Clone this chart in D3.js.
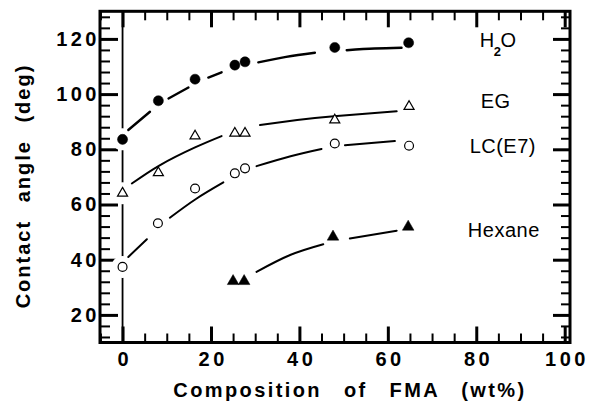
<!DOCTYPE html>
<html>
<head>
<meta charset="utf-8">
<script src="https://cdn.jsdelivr.net/npm/d3@7"></script>
<style>
  body { margin: 0; background: #fff; }
  svg { display: block; font-family: "Liberation Sans", Arial, Helvetica, sans-serif; }
</style>
</head>
<body>
<div id="chart"></div>
<script>
// measured points (composition wt% / contact angle deg)
const h2oX = [0, 8.1, 16.4, 25.4, 27.7, 48.0, 64.7]
const h2oY = [83.6, 97.6, 105.4, 110.5, 111.7, 116.9, 118.6]
const egX = [0, 8.1, 16.4, 25.4, 27.7, 48.0, 64.8]
const egY = [64.1, 71.5, 84.8, 85.8, 85.8, 90.6, 95.5]
const lcX = [0, 8.0, 16.4, 25.4, 27.7, 48.0, 64.8]
const lcY = [37.4, 53.2, 65.8, 71.3, 73.1, 82.1, 81.3]
const hexX = [25.0, 27.5, 47.6, 64.6]
const hexY = [32.2, 32.2, 48.3, 51.9]

// hand drawn guide curves, broken where they meet the markers
const h2oFit = [
  [[1.3, 87.0], [6.2, 93.6]],
  [[10.4, 98.4], [14.9, 102.4]],
  [[19.4, 106.0], [22.4, 107.9]],
  [[30.7, 111.5], [37.0, 113.5], [43.5, 115.0]],
  [[50.7, 115.9], [57.0, 116.5], [63.1, 116.8]]
]
const egFit = [
  [[2.1, 67.6], [8.5, 74.3], [16.4, 80.7], [22.4, 84.8]],
  [[31.1, 88.8], [39.5, 90.6], [47.8, 92.0], [62.0, 93.8]]
]
const lcFit = [
  [[1.3, 41.0], [5.5, 47.4]],
  [[10.7, 55.2], [16.6, 62.0], [22.8, 68.0]],
  [[30.3, 73.9], [38.0, 77.5], [45.0, 80.1]],
  [[50.3, 81.5], [61.6, 83.0]]
]
const hexFit = [
  [[30.3, 35.6], [37.9, 41.7], [45.4, 45.6]],
  [[51.4, 47.7], [62.0, 50.5]]
]

const xTicks = [0, 20, 40, 60, 80, 100]
const yTicks = [20, 40, 60, 80, 100, 120]
const xMinor = d3.range(-5, 101, 5).filter(d => d % 20 != 0)
const yMinor = d3.range(12, 130, 4).filter(d => d % 20 != 0)

const width = 592, height = 402

var svg = d3.select('#chart').append('svg')
  .attr('width', width)
  .attr('height', height)

var x = d3.scaleLinear().domain([-5.1, 101.2]).range([100, 570])
var y = d3.scaleLinear().domain([10, 130]).range([342.5, 11.3])

const x0 = 100, x1 = 570, y0 = 342.5, y1 = 11.3

// ---- axes (ticks point inward on all four sides)
function styleAxis(g, w) {
  g.select('.domain').remove()
  g.selectAll('.tick line').attr('stroke', '#000').attr('stroke-width', w)
}
const tickFont = g => g.selectAll('text')
  .attr('fill', '#000')
  .style('font-size', '20px')
  .style('font-weight', 'bold')
  .style('letter-spacing', '3.5px')

svg.append('g').attr('transform', `translate(0,${y0})`)
  .call(d3.axisBottom(x).tickValues(xMinor).tickSize(-9).tickFormat(''))
  .call(g => styleAxis(g, 2))
svg.append('g').attr('transform', `translate(0,${y0})`)
  .call(d3.axisBottom(x).tickValues(xTicks).tickSize(-16).tickPadding(9))
  .call(g => styleAxis(g, 3))
  .call(tickFont)
  .call(g => g.selectAll('text').attr('dx', '1.75px'))

svg.append('g').attr('transform', `translate(0,${y1})`)
  .call(d3.axisTop(x).tickValues(xMinor).tickSize(-9).tickFormat(''))
  .call(g => styleAxis(g, 2))
svg.append('g').attr('transform', `translate(0,${y1})`)
  .call(d3.axisTop(x).tickValues(xTicks).tickSize(-16).tickFormat(''))
  .call(g => styleAxis(g, 3))

svg.append('g').attr('transform', `translate(${x0},0)`)
  .call(d3.axisLeft(y).tickValues(yMinor).tickSize(-10).tickFormat(''))
  .call(g => styleAxis(g, 2))
svg.append('g').attr('transform', `translate(${x0},0)`)
  .call(d3.axisLeft(y).tickValues(yTicks).tickSize(-18).tickPadding(0))
  .call(g => styleAxis(g, 3))
  .call(tickFont)

svg.append('g').attr('transform', `translate(${x1},0)`)
  .call(d3.axisRight(y).tickValues(yMinor).tickSize(-9).tickFormat(''))
  .call(g => styleAxis(g, 2))
svg.append('g').attr('transform', `translate(${x1},0)`)
  .call(d3.axisRight(y).tickValues(yTicks).tickSize(-17).tickFormat(''))
  .call(g => styleAxis(g, 3))

// frame
svg.append('rect')
  .attr('x', x0).attr('y', y1)
  .attr('width', x1 - x0).attr('height', y0 - y1)
  .attr('fill', 'none').attr('stroke', '#000').attr('stroke-width', 3)

// vertical guide at 0 wt%
svg.append('line')
  .attr('x1', x(0)).attr('x2', x(0))
  .attr('y1', y(130)).attr('y2', y(10))
  .attr('stroke', '#000').attr('stroke-width', 1.8)

const series = [
  { name: 'h2o', xs: h2oX, ys: h2oY, fit: h2oFit, sym: d3.symbolCircle, size: 80, filled: true, lw: 2.4 },
  { name: 'eg', xs: egX, ys: egY, fit: egFit, sym: d3.symbolTriangle, size: 44, filled: false, lw: 2 },
  { name: 'lc', xs: lcX, ys: lcY, fit: lcFit, sym: d3.symbolCircle, size: 62, filled: false, lw: 2 },
  { name: 'hex', xs: hexX, ys: hexY, fit: hexFit, sym: d3.symbolTriangle, size: 58, filled: true, lw: 2 }
]

// white gaps in the 0 wt% guide around its markers
series.forEach(s => {
  s.xs.forEach((d, i) => {
    if (d != 0) return
    svg.append('circle')
      .attr('cx', x(d)).attr('cy', y(s.ys[i]))
      .attr('r', 11).attr('fill', '#fff')
  })
})

var line = d3.line()
  .x(d => x(d[0]))
  .y(d => y(d[1]))
  .curve(d3.curveNatural)

series.forEach(s => {
  svg.append('g')
    .selectAll('path')
    .data(s.fit)
    .enter()
    .append('path')
    .attr('d', line)
    .attr('fill', 'none')
    .attr('stroke', '#000')
    .attr('stroke-width', s.lw)
    .attr('stroke-linecap', 'round')
})

series.forEach(s => {
  svg.append('g')
    .selectAll('path')
    .data(s.xs.map((d, i) => [d, s.ys[i]]))
    .enter()
    .append('path')
    .attr('transform', d => `translate(${x(d[0])},${y(d[1])})`)
    .attr('d', d3.symbol().type(s.sym).size(s.size))
    .attr('fill', s.filled ? '#000' : '#fff')
    .attr('stroke', '#000')
    .attr('stroke-width', s.filled ? 0.5 : 1.2)
})

// series labels
const labelFont = sel => sel.attr('fill', '#000').style('font-size', '20px').style('letter-spacing', '0.5px')
var h2o = svg.append('text').attr('x', x(80.8)).attr('y', y(117.0)).call(labelFont)
h2o.append('tspan').text('H')
h2o.append('tspan').text('2').attr('dy', 9).attr('dx', -1).style('font-size', '13px').style('font-weight', 'bold')
h2o.append('tspan').text('O').attr('dy', -9).attr('dx', -1)
svg.append('text').attr('x', x(81.0)).attr('y', y(94.9)).text('EG').call(labelFont)
svg.append('text').attr('x', x(78.5)).attr('y', y(78.6)).text('LC(E7)').call(labelFont)
svg.append('text').attr('x', x(78.1)).attr('y', y(48.3)).text('Hexane').call(labelFont)

// axis titles
svg.append('text')
  .attr('x', 350).attr('y', 397)
  .attr('text-anchor', 'middle')
  .style('font-size', '20px').style('font-weight', 'bold')
  .style('letter-spacing', '2.4px').style('word-spacing', '14px')
  .text('Composition of FMA (wt%)')

svg.append('text')
  .attr('transform', 'translate(30,186)rotate(-90)')
  .attr('text-anchor', 'middle')
  .style('font-size', '20px').style('font-weight', 'bold')
  .style('letter-spacing', '2px').style('word-spacing', '10px')
  .text('Contact angle (deg)')
</script>
</body>
</html>
